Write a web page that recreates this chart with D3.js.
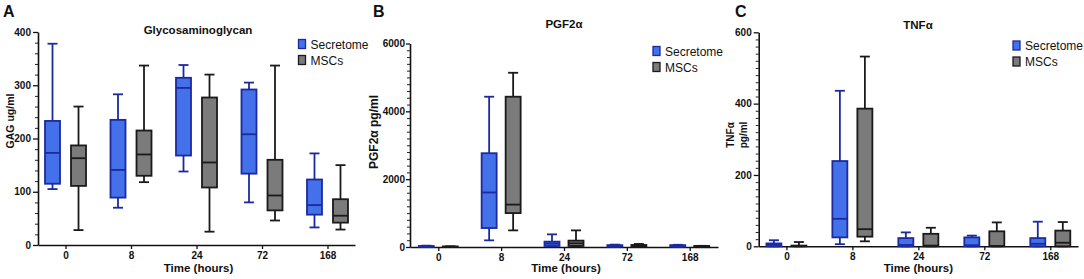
<!DOCTYPE html>
<html><head><meta charset="utf-8">
<script src="https://cdn.jsdelivr.net/npm/d3@7"></script>
<style>
html,body{margin:0;padding:0;background:#fff;}
svg{display:block;font-family:"Liberation Sans",Arial,sans-serif;}
</style></head>
<body>
<svg id="chart" width="1084" height="279"></svg>
<script>
// ---- data: [min, q1, median, q3, max] ----
const categories = ["0", "8", "24", "72", "168"];
const seriesNames = ["Secretome", "MSCs"];

const gagSecretome = [[105,115,173,233,378],[70,89,141,235,283],[138,168,295,314,338],[80,134,208,292,305],[33,57,75,123,172]];
const gagMSCs      = [[28,111,163,187,260],[118,130,170,215,337],[25,108,155,277,320],[46,65,93,160,337],[29,42,55,86,150]];

const pgfSecretome = [[0,5,15,30,40],[196,559,1608,2765,4431],[20,30,100,158,373],[0,10,35,55,70],[0,10,35,55,65]];
const pgfMSCs      = [[0,2,8,15,20],[490,1000,1250,4431,5137],[10,30,108,188,490],[0,5,30,60,90],[0,5,20,30,35]];

const tnfSecretome = [[0,0,4,8,17],[6,25,77,239,436],[0,0,4,23,39],[0,0,3,25,30],[0,0,7,23,69]];
const tnfMSCs      = [[0,0,1,2,12],[14,27,48,386,532],[0,0,2,35,52],[0,0,1,42,67],[0,0,10,44,68]];

const gagTicks = [0,100,200,300,400];
const pgfTicks = [0,2000,4000,6000];
const tnfTicks = [0,200,400,600];

const colors = {
  Secretome: {fill: "#4470ea", stroke: "#1b2a9e"},
  MSCs: {fill: "#7b7b7b", stroke: "#1a1a1a"}
};

const svg = d3.select("#chart");

function panel(cfg) {
  const g = svg.append("g");
  const y = d3.scaleLinear().domain([0, cfg.yMax]).range([cfg.y0, cfg.y1]);
  const x = d3.scalePoint().domain(categories).range([cfg.xL, cfg.xR]).padding(cfg.pad);

  // minor ticks
  const minorVals = d3.range(0, cfg.yMax + 1e-9, cfg.minor).filter(v => !cfg.ticks.includes(v));
  g.append("g").attr("transform", `translate(${cfg.xL},0)`)
    .call(d3.axisLeft(y).tickValues(minorVals).tickSize(3).tickFormat("").tickSizeOuter(0))
    .call(a => a.select(".domain").remove())
    .call(a => a.selectAll("line").attr("stroke", "#222").attr("stroke-width", 1));
  // major axis
  g.append("g").attr("transform", `translate(${cfg.xL},0)`)
    .call(d3.axisLeft(y).tickValues(cfg.ticks).tickFormat(d3.format("d")).tickSize(cfg.tSize).tickSizeOuter(0).tickPadding(cfg.tPad))
    .call(a => a.select(".domain").attr("stroke", "#111").attr("stroke-width", 1.6))
    .call(a => a.selectAll("line").attr("stroke", "#111").attr("stroke-width", 1.3))
    .call(a => a.selectAll("text").attr("font-size", 10).attr("font-weight", "bold").attr("fill", "#111")
      .attr("font-family", "Liberation Sans, Arial, sans-serif"));
  // x axis
  g.append("g").attr("transform", `translate(0,${cfg.y0})`)
    .call(d3.axisBottom(x).tickSize(4).tickSizeOuter(0).tickPadding(3))
    .call(a => a.select(".domain").attr("stroke", "#111").attr("stroke-width", 1.6))
    .call(a => a.selectAll("line").attr("stroke", "#111").attr("stroke-width", 1.3))
    .call(a => a.selectAll("text").attr("font-size", 10).attr("font-weight", "bold").attr("fill", "#111")
      .attr("font-family", "Liberation Sans, Arial, sans-serif"));

  const series = [{name: "Secretome", data: cfg.sec, off: -cfg.off}, {name: "MSCs", data: cfg.msc, off: cfg.off}];
  const bw = cfg.bw, cw = 10;
  series.forEach(s => {
    const c = colors[s.name];
    s.data.forEach((d, i) => {
      const cx = x(categories[i]) + s.off;
      const [mn, q1, md, q3, mx] = d;
      const bg = g.append("g").attr("stroke", c.stroke).attr("stroke-width", 1.8);
      bg.append("line").attr("x1", cx).attr("x2", cx).attr("y1", y(mx)).attr("y2", y(mn));
      bg.append("line").attr("x1", cx - cw/2).attr("x2", cx + cw/2).attr("y1", y(mx)).attr("y2", y(mx));
      bg.append("line").attr("x1", cx - cw/2).attr("x2", cx + cw/2).attr("y1", y(mn)).attr("y2", y(mn));
      bg.append("rect").attr("x", cx - bw/2).attr("width", bw)
        .attr("y", y(q3)).attr("height", Math.max(0.5, y(q1) - y(q3))).attr("fill", c.fill);
      bg.append("line").attr("x1", cx - bw/2).attr("x2", cx + bw/2).attr("y1", y(md)).attr("y2", y(md));
    });
  });

  // title
  g.append("text").attr("x", cfg.titleX).attr("y", cfg.titleY).attr("text-anchor", "middle")
    .attr("font-size", 11.5).attr("font-weight", "bold").attr("fill", "#111").text(cfg.title);
  // x label
  g.append("text").attr("x", (cfg.xL + cfg.xR) / 2 + cfg.xLabDx).attr("y", 272).attr("text-anchor", "middle")
    .attr("font-size", 11.5).attr("font-weight", "bold").attr("fill", "#111").text("Time (hours)");
  // y label
  cfg.yLabel.forEach((t, k) => {
    g.append("text").attr("transform", `translate(${cfg.yLabX + k * cfg.yLabDx},${cfg.yLabY}) rotate(-90)`)
      .attr("text-anchor", "middle").attr("font-size", cfg.yLabSize).attr("font-weight", "bold").attr("fill", "#111").text(t);
  });
  // panel letter
  g.append("text").attr("x", cfg.letterX).attr("y", 17).attr("font-size", 16).attr("font-weight", "bold")
    .attr("fill", "#111").text(cfg.letter);
  // legend
  seriesNames.forEach((n, k) => {
    const c = colors[n];
    g.append("rect").attr("x", cfg.legX).attr("y", cfg.legY + k * 16).attr("width", 7).attr("height", 9)
      .attr("fill", c.fill).attr("stroke", c.stroke).attr("stroke-width", 1.3);
    g.append("text").attr("x", cfg.legX + 12).attr("y", cfg.legY + k * 16 + 9).attr("font-size", 12)
      .attr("fill", "#111").text(n);
  });
}

panel({letter: "A", letterX: 3, title: "Glycosaminoglycan", titleX: 198, titleY: 34,
  yMax: 400, ticks: gagTicks, minor: 20, y0: 245, y1: 32, xL: 38, xR: 355, pad: 0.42, off: 13, bw: 15,
  tSize: 5, tPad: 2,
  sec: gagSecretome, msc: gagMSCs, xLabDx: 2,
  yLabel: ["GAG ug/ml"], yLabX: 14, yLabY: 121, yLabDx: 0, yLabSize: 10.5,
  legX: 298.5, legY: 39.5});

panel({letter: "B", letterX: 373, title: "PGF2\u03b1", titleX: 564, titleY: 28,
  yMax: 6000, ticks: pgfTicks, minor: 200, y0: 247, y1: 43.5, xL: 410, xR: 718, pad: 0.45, off: 12, bw: 15,
  tSize: 4, tPad: 1,
  sec: pgfSecretome, msc: pgfMSCs, xLabDx: 2,
  yLabel: ["PGF2\u03b1 pg/ml"], yLabX: 378, yLabY: 132, yLabDx: 0, yLabSize: 12,
  legX: 653, legY: 46.5});

panel({letter: "C", letterX: 735, title: "TNF\u03b1", titleX: 918, titleY: 29,
  yMax: 600, ticks: tnfTicks, minor: 20, y0: 246.3, y1: 32.3, xL: 758.7, xR: 1078, pad: 0.42, off: 12.5, bw: 15,
  tSize: 5, tPad: 2,
  sec: tnfSecretome, msc: tnfMSCs, xLabDx: 0,
  yLabel: ["TNF\u03b1", "pg/ml"], yLabX: 734, yLabY: 135, yLabDx: 13, yLabSize: 10,
  legX: 1013, legY: 41});
</script>
</body></html>
